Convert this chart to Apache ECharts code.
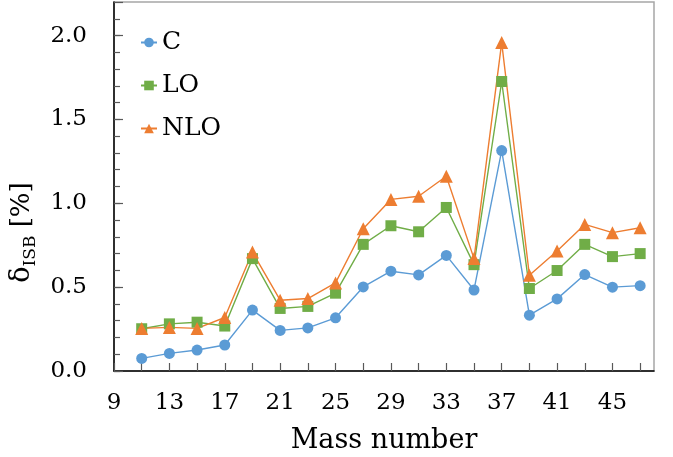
<!DOCTYPE html>
<html>
<head>
<meta charset="utf-8">
<script src="https://cdn.jsdelivr.net/npm/echarts@6/dist/echarts.min.js"></script>
<style>
  html, body { margin: 0; padding: 0; background: #fff; }
  #chart { width: 673px; height: 457px; }
</style>
</head>
<body>
<div id="chart"></div>
<script>
// Mass numbers (odd A) and isospin-symmetry-breaking corrections, in %
const massNumbers = [11, 13, 15, 17, 19, 21, 23, 25, 27, 29, 31, 33, 35, 37, 39, 41, 43, 45, 47];
const valuesC   = [0.075, 0.105, 0.125, 0.155, 0.363, 0.242, 0.257, 0.317, 0.501, 0.595, 0.573, 0.689, 0.483, 1.314, 0.333, 0.430, 0.575, 0.500, 0.509];
const valuesLO  = [0.252, 0.281, 0.291, 0.268, 0.670, 0.373, 0.385, 0.464, 0.755, 0.866, 0.830, 0.975, 0.634, 1.726, 0.492, 0.599, 0.755, 0.682, 0.700];
const valuesNLO = [0.254, 0.260, 0.254, 0.319, 0.709, 0.422, 0.432, 0.525, 0.848, 1.023, 1.042, 1.161, 0.670, 1.958, 0.571, 0.715, 0.874, 0.825, 0.854];
const seriesNames = ['C', 'LO', 'NLO'];
const xLabelTicks = [9, 13, 17, 21, 25, 29, 33, 37, 41, 45];
const yLabelTicks = [0, 0.5, 1.0, 1.5, 2.0];

const FONT = 'DejaVu Serif';
const pairs = (ys) => massNumbers.map((a, i) => [a, ys[i]]);

const chart = echarts.init(document.getElementById('chart'), null, { renderer: 'canvas' });

function lineSeries(name, data, color, symbol, size) {
  return {
    name: name,
    type: 'line',
    data: pairs(data),
    symbol: symbol,
    symbolSize: size,
    showAllSymbol: true,
    lineStyle: { color: color, width: 1.4 },
    itemStyle: { color: color },
    emphasis: { disabled: true },
    animation: false
  };
}

chart.setOption({
  backgroundColor: '#ffffff',
  animation: false,
  grid: {
    left: 114, right: 19, top: 2, bottom: 86,
    outerBoundsMode: 'none',
    containLabel: false,
    show: true, borderColor: '#a6a6a6', borderWidth: 1.5, backgroundColor: 'transparent'
  },
  legend: {
    orient: 'vertical',
    left: 135, top: 25,
    itemWidth: 16, itemHeight: 12, itemGap: 18,
    textStyle: { fontFamily: FONT, fontSize: 25, color: '#000' },
    data: seriesNames
  },
  xAxis: {
    type: 'value',
    min: 9, max: 48, interval: 2,
    name: 'Mass number',
    nameLocation: 'middle',
    nameGap: 56,
    nameTextStyle: { fontFamily: FONT, fontSize: 27, color: '#000' },
    axisLine: { show: true, onZero: false, lineStyle: { color: '#000', width: 1.5 } },
    axisTick: { show: true, inside: true, length: 8, lineStyle: { color: '#595959', width: 1.2 } },
    axisLabel: {
      fontFamily: FONT, fontSize: 23, color: '#000', margin: 21,
      showMaxLabel: false,
      formatter: (v) => xLabelTicks.includes(v) ? String(v) : ''
    },
    splitLine: { show: false }
  },
  yAxis: [{
    type: 'value',
    min: 0, max: 2.2, interval: 0.1,
    name: '{d|δ}{s|ISB}{n| [%]}',
    nameLocation: 'middle',
    nameRotate: 90,
    nameGap: 70,
    nameTextStyle: {
      padding: [0, 92, 0, 0],
      rich: {
        d: { fontFamily: FONT, fontSize: 27, color: '#000' },
        s: { fontFamily: FONT, fontSize: 17, color: '#000', padding: [18, 0, 0, 0] },
        n: { fontFamily: FONT, fontSize: 26, color: '#000' }
      }
    },
    axisLine: { show: true, onZero: false, lineStyle: { color: '#000', width: 1.5 } },
    axisTick: { show: true, inside: true, length: 6, lineStyle: { color: '#595959', width: 1.2 } },
    axisLabel: {
      fontFamily: FONT, fontSize: 23, color: '#000', margin: 27,
      showMaxLabel: false,
      formatter: (v) => {
        const r = Math.round(v * 10) / 10;
        return yLabelTicks.some(t => Math.abs(t - r) < 1e-6) ? r.toFixed(1) : '';
      }
    },
    splitLine: { show: false }
  }, {
    // longer ticks at the labelled values
    type: 'value',
    position: 'left',
    min: 0, max: 2.2, interval: 0.5,
    axisLine: { show: false },
    axisTick: { show: true, inside: true, length: 9, lineStyle: { color: '#595959', width: 1.2 } },
    axisLabel: { show: false },
    splitLine: { show: false }
  }],
  series: [
    lineSeries(seriesNames[0], valuesC, '#5b9bd5', 'circle', 11),
    lineSeries(seriesNames[1], valuesLO, '#70ad47', 'rect', 11),
    lineSeries(seriesNames[2], valuesNLO, '#ed7d31', 'triangle', 13)
  ]
});
</script>
</body>
</html>
